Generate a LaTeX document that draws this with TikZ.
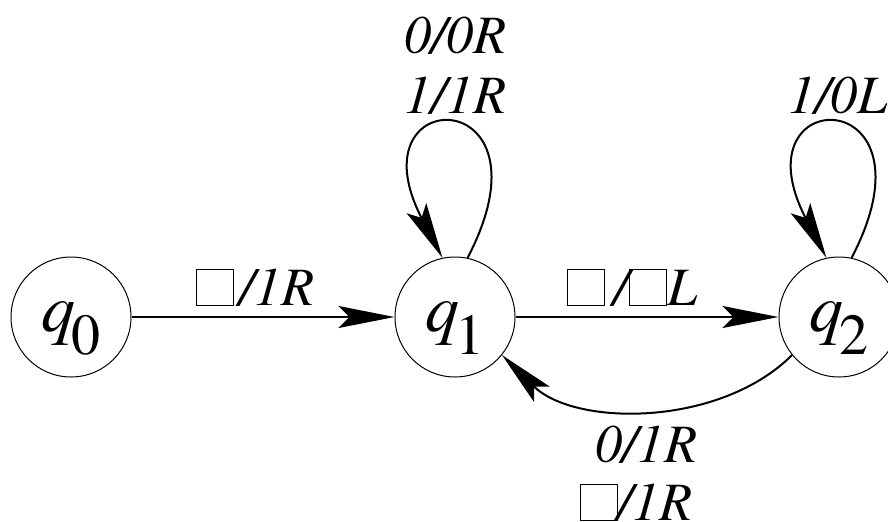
\documentclass[tikz,border=0pt]{standalone}
\usepackage{fontspec}
\setmainfont{texgyretermes}[Extension=.otf,UprightFont=*-regular,ItalicFont=*-italic,BoldFont=*-bold,BoldItalicFont=*-bolditalic]
\usetikzlibrary{arrows.meta}
\newcommand{\blk}{{\setlength{\fboxsep}{0pt}\setlength{\fboxrule}{0.5pt}\fbox{\rule{0pt}{17.5pt}\rule{18pt}{0pt}}}}
\newcommand{\qlab}[1]{\raisebox{-7pt}[0pt][0pt]{{\fontsize{34}{38}\selectfont\itshape q}\kern-2pt\raisebox{-11.5pt}{\fontsize{29}{32}\selectfont #1}}}
\begin{document}
\begin{tikzpicture}[x=0.5pt,y=-0.5pt,
  state/.style={circle, draw, line width=0.5pt, minimum size=60pt, inner sep=0pt},
  edge/.style={line width=1pt, -{Stealth[length=28pt,width=11pt,inset=5.5pt]}},
  lab/.style={font=\fontsize{27}{30}\selectfont\itshape, anchor=base, inner sep=0pt}]
\useasboundingbox (0,0) rectangle (888,521);
\node[state] (q0) at (71,317) {\qlab{0}};
\node[state] (q1) at (455,317) {\qlab{1}};
\node[state] (q2) at (839,317) {\qlab{2}};
\draw[edge] (q0) -- (q1);
\draw[edge] (q1) -- (q2);
\draw[edge] (q1.78) .. controls (560,81) and (350,81) .. (q1.102);
\draw[edge] (q2.78) .. controls (944,81) and (734,81) .. (q2.102);
\draw[edge] (q2.219) .. controls (720,427) and (575,427) .. (q1.321);
\node[lab] (l01) at (255,305) {\blk\kern3pt/1R};
\node[lab] (l11a) at (455,53) {0/0R};
\node[lab] (l11b) at (455,113) {1/1R};
\node[lab] (l12) at (632,305) {\blk\,/\blk L};
\node[lab] (l21a) at (646,462) {0/1R};
\node[lab] (l21b) at (636,520) {\blk/1R};
\node[lab] (l22) at (838,113) {1/0L};
\end{tikzpicture}
\end{document}
